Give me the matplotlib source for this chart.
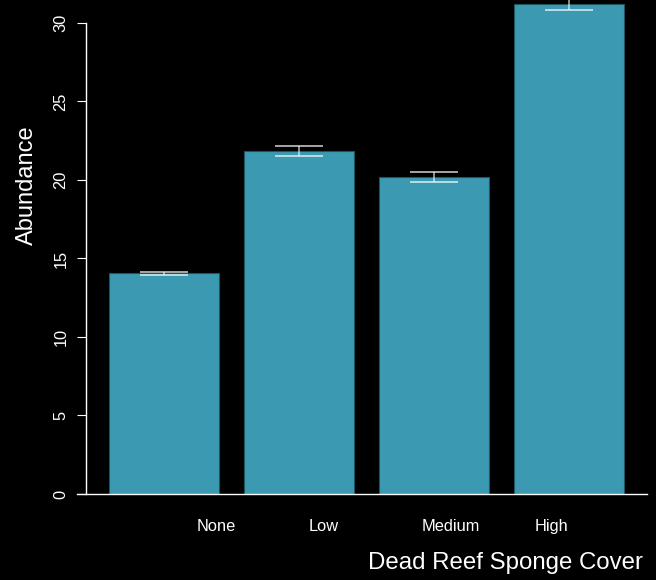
import matplotlib
matplotlib.use("Agg")
import matplotlib.pyplot as plt
import numpy as np

# mean abundance and standard error per sponge cover class
cover = ["None", "Low", "Medium", "High"]
abundance = [14.05, 21.85, 20.2, 31.19]
se = [0.1, 0.32, 0.3, 0.38]
label_pos = [0.385, 1.185, 2.126, 2.874]
yticks = [0, 5, 10, 15, 20, 25, 30]

plt.rcParams['font.family'] = ['Liberation Sans', 'DejaVu Sans']

fig = plt.figure(figsize=(6.56, 5.8), dpi=100, facecolor='black')
ax = fig.add_axes([77/656, 86/580, 573/656, 494/580], facecolor='black')

x = np.arange(len(cover))
ax.bar(x, abundance, width=0.82, color='#3B9AB2', edgecolor='#1d5563', linewidth=0.8, zorder=2)
ax.errorbar(x, abundance, yerr=se, fmt='none', ecolor=(1, 1, 1, 0.7),
            elinewidth=1.1, capsize=17.5, capthick=1.3, zorder=3, clip_on=False)

ax.set_xlim(-0.644, 3.6)
ax.set_ylim(0, 31.46)

for s in ['top', 'right']:
    ax.spines[s].set_visible(False)
ax.spines['left'].set_position(('data', -0.578))
ax.spines['left'].set_bounds(0, 30)
ax.spines['bottom'].set_bounds(-0.644, 3.578)
for s in ['left', 'bottom']:
    ax.spines[s].set_color('white')
    ax.spines[s].set_linewidth(1.0)

ax.set_yticks(yticks)
ax.set_yticklabels([str(v) for v in yticks], rotation=90, va='center')
ax.tick_params(axis='y', colors='white', length=6.5, width=0.8, pad=6, labelsize=11.8)

ax.set_xticks(label_pos)
ax.set_xticklabels(cover)
ax.tick_params(axis='x', colors='white', length=0, pad=18, labelsize=11.8)

fig.text(643/656, 1 - 563/580, "Dead Reef Sponge Cover", color='white', fontsize=17.3,
         ha='right', va='center')
fig.text(27/656, 1 - 185/580, "Abundance", color='white', fontsize=17,
         rotation=90, ha='center', va='center')

fig.savefig("out.png", dpi=100, facecolor='black')
